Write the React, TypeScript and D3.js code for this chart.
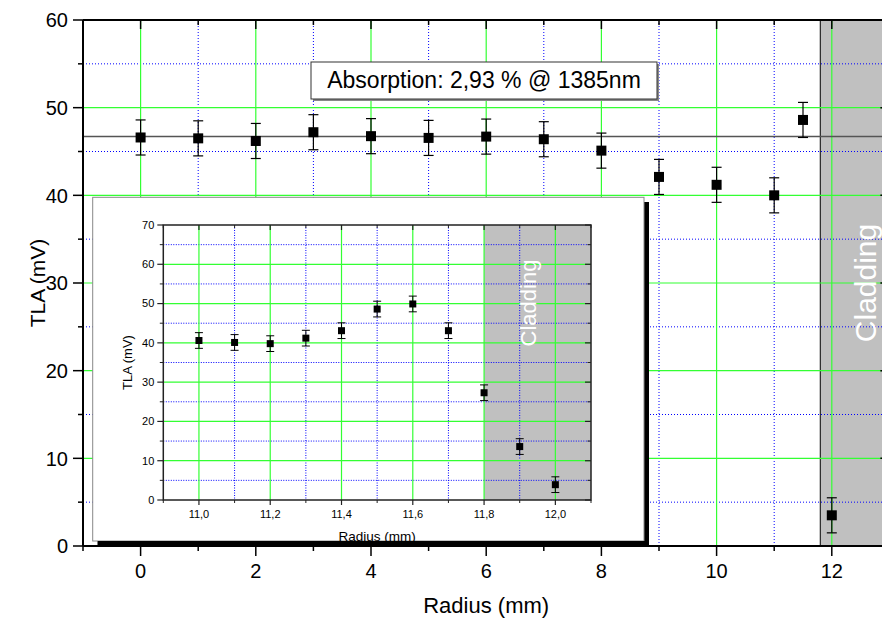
import React from "react";
import * as d3 from "d3";

const mainRadius = [0, 1, 2, 3, 4, 5, 6, 7, 8, 9, 10, 11, 11.5, 12];
const mainTLA = [46.6, 46.5, 46.2, 47.2, 46.75, 46.55, 46.7, 46.4, 45.1, 42.1, 41.2, 40.0, 48.6, 3.5];
const mainErr = [2, 2, 2, 2, 2, 2, 2, 2, 2, 2, 2, 2, 2, 2];
const meanLine = 46.7;

const insetRadius = [11.0, 11.1, 11.2, 11.3, 11.4, 11.5, 11.6, 11.7, 11.8, 11.9, 12.0];
const insetTLA = [40.6, 40.1, 39.8, 41.2, 43.1, 48.6, 49.9, 43.1, 27.3, 13.6, 3.9];
const insetErr = [2, 2, 2, 2, 2, 2, 2, 2, 2, 2, 2];

const mainXMajor = [0, 2, 4, 6, 8, 10, 12];
const mainXMinor = [-1, 1, 3, 5, 7, 9, 11, 13];
const mainYMajor = [0, 10, 20, 30, 40, 50, 60];
const mainYMinor = [5, 15, 25, 35, 45, 55];

const insetXMajor = [11.0, 11.2, 11.4, 11.6, 11.8, 12.0];
const insetXMinor = [10.9, 11.1, 11.3, 11.5, 11.7, 11.9, 12.1];
const insetYMajor = [0, 10, 20, 30, 40, 50, 60, 70];
const insetYMinor = [5, 15, 25, 35, 45, 55, 65];

const claddingStart = 11.8;
const annotation = "Absorption: 2,93 % @ 1385nm";

const FONT = "'Liberation Sans', Arial, sans-serif";
const GREEN = "#33ff33";
const BLUE = "#0000ff";
const GRAY = "#c0c0c0";

const fmt = (v: number) => v.toFixed(1).replace(".", ",");

export default function App() {
  const x = d3.scaleLinear().domain([-1, 13]).range([83, 889.4]);
  const y = d3.scaleLinear().domain([0, 60]).range([546, 20]);
  const ix = d3.scaleLinear().domain([10.9, 12.1]).range([163.3, 591]);
  const iy = d3.scaleLinear().domain([0, 70]).range([500, 225]);

  const [x0, x1] = x.range();
  const [y0, y1] = y.range();
  const [ix0, ix1] = ix.range();
  const [iy0, iy1] = iy.range();

  return (
    <svg width={882} height={619} style={{ position: "absolute", left: 0, top: 0, background: "#fff" }} fontFamily={FONT}>
      <rect x={0} y={0} width={882} height={619} fill="#fff" />
      {/* cladding region */}
      <rect x={x(claddingStart)} y={y1} width={x1 - x(claddingStart)} height={y0 - y1} fill={GRAY} />
      <line x1={x(claddingStart)} x2={x(claddingStart)} y1={y1} y2={y0} stroke="#000" strokeWidth={1} />
      {/* main grid */}
      {mainYMinor.map((v) => (
        <line key={"gym" + v} x1={x0} x2={882} y1={y(v)} y2={y(v)} stroke={BLUE} strokeWidth={1} strokeDasharray="1,2" />
      ))}
      {mainXMinor.filter((v) => v > -1).map((v) => (
        <line key={"gxm" + v} x1={x(v)} x2={x(v)} y1={y1} y2={y0} stroke={BLUE} strokeWidth={1} strokeDasharray="1,2" />
      ))}
      {mainYMajor.filter((v) => v > 0 && v < 60).map((v) => (
        <line key={"gy" + v} x1={x0} x2={882} y1={y(v)} y2={y(v)} stroke={GREEN} strokeWidth={1.2} />
      ))}
      {mainXMajor.map((v) => (
        <line key={"gx" + v} x1={x(v)} x2={x(v)} y1={y1} y2={y0} stroke={GREEN} strokeWidth={1.2} />
      ))}
      {/* mean line */}
      <line x1={x0} x2={882} y1={y(meanLine)} y2={y(meanLine)} stroke="#555" strokeWidth={1.5} />
      {/* main data */}
      {mainRadius.map((r, i) => {
        const cx = x(r);
        const cy = y(mainTLA[i]);
        const top = y(mainTLA[i] + mainErr[i]);
        const bot = y(mainTLA[i] - mainErr[i]);
        return (
          <g key={"m" + i}>
            <line x1={cx} x2={cx} y1={top} y2={bot} stroke="#000" strokeWidth={1.2} />
            <line x1={cx - 5} x2={cx + 5} y1={top} y2={top} stroke="#000" strokeWidth={1.2} />
            <line x1={cx - 5} x2={cx + 5} y1={bot} y2={bot} stroke="#000" strokeWidth={1.2} />
            <rect x={cx - 5} y={cy - 5} width={10} height={10} fill="#000" />
          </g>
        );
      })}
      {/* annotation box */}
      <rect x={313} y={64} width={346} height={37} fill="#888" />
      <rect x={311} y={62} width={346} height={37} fill="#fff" stroke="#333" strokeWidth={1} />
      <text x={484} y={88} fontSize={23} textAnchor="middle" fill="#000">{annotation}</text>

      {/* inset */}
      <rect x={97.7} y={202} width={551.3} height={344} fill="#000" />
      <rect x={92.7} y={197.3} width={551.3} height={343.7} fill="#fff" stroke="#888" strokeWidth={1} />
      <rect x={ix(claddingStart)} y={iy1} width={ix1 - ix(claddingStart)} height={iy0 - iy1} fill={GRAY} />
      {insetYMinor.map((v) => (
        <line key={"iym" + v} x1={ix0} x2={ix1} y1={iy(v)} y2={iy(v)} stroke={BLUE} strokeWidth={1} strokeDasharray="1,1.5" />
      ))}
      {insetXMinor.filter((v) => v > 10.95 && v < 12.05).map((v) => (
        <line key={"ixm" + v} x1={ix(v)} x2={ix(v)} y1={iy1} y2={iy0} stroke={BLUE} strokeWidth={1} strokeDasharray="1,1.5" />
      ))}
      {insetYMajor.filter((v) => v > 0 && v < 70).map((v) => (
        <line key={"iy" + v} x1={ix0} x2={ix1} y1={iy(v)} y2={iy(v)} stroke={GREEN} strokeWidth={1.2} />
      ))}
      {insetXMajor.map((v) => (
        <line key={"ix" + v} x1={ix(v)} x2={ix(v)} y1={iy1} y2={iy0} stroke={GREEN} strokeWidth={1.2} />
      ))}
      {insetRadius.map((r, i) => {
        const cx = ix(r);
        const cy = iy(insetTLA[i]);
        const top = iy(insetTLA[i] + insetErr[i]);
        const bot = iy(insetTLA[i] - insetErr[i]);
        return (
          <g key={"i" + i}>
            <line x1={cx} x2={cx} y1={top} y2={bot} stroke="#000" strokeWidth={1} />
            <line x1={cx - 4} x2={cx + 4} y1={top} y2={top} stroke="#000" strokeWidth={1} />
            <line x1={cx - 4} x2={cx + 4} y1={bot} y2={bot} stroke="#000" strokeWidth={1} />
            <rect x={cx - 3.5} y={cy - 3.5} width={7} height={7} fill="#000" />
          </g>
        );
      })}
      {/* inset axes */}
      <rect x={ix0} y={iy1} width={ix1 - ix0} height={iy0 - iy1} fill="none" stroke="#222" strokeWidth={1.5} />
      {insetYMajor.map((v) => (
        <g key={"iyt" + v}>
          <line x1={ix0 - 6} x2={ix0} y1={iy(v)} y2={iy(v)} stroke="#222" strokeWidth={1.2} />
          <line x1={ix1 - 6} x2={ix1} y1={iy(v)} y2={iy(v)} stroke="#222" strokeWidth={1.2} />
          <text x={ix0 - 9} y={iy(v)} dy="0.35em" fontSize={11} textAnchor="end" fill="#000">{v}</text>
        </g>
      ))}
      {insetYMinor.map((v) => (
        <g key={"iytm" + v}>
          <line x1={ix0 - 3.5} x2={ix0} y1={iy(v)} y2={iy(v)} stroke="#222" strokeWidth={1} />
          <line x1={ix1 - 3.5} x2={ix1} y1={iy(v)} y2={iy(v)} stroke="#222" strokeWidth={1} />
        </g>
      ))}
      {insetXMajor.map((v) => (
        <g key={"ixt" + v}>
          <line x1={ix(v)} x2={ix(v)} y1={iy0} y2={iy0 + 5} stroke="#222" strokeWidth={1.2} />
          <line x1={ix(v)} x2={ix(v)} y1={iy1} y2={iy1 + 5} stroke="#222" strokeWidth={1.2} />
          <text x={ix(v)} y={iy0 + 18} fontSize={11} textAnchor="middle" fill="#000">{fmt(v)}</text>
        </g>
      ))}
      {insetXMinor.map((v) => (
        <g key={"ixtm" + v}>
          <line x1={ix(v)} x2={ix(v)} y1={iy0} y2={iy0 + 3} stroke="#222" strokeWidth={1} />
          <line x1={ix(v)} x2={ix(v)} y1={iy1} y2={iy1 + 3} stroke="#222" strokeWidth={1} />
        </g>
      ))}
      <text transform={`translate(132,${(iy0 + iy1) / 2}) rotate(-90)`} fontSize={13} textAnchor="middle" fill="#000">TLA (mV)</text>
      <text x={(ix0 + ix1) / 2} y={541} fontSize={13.5} textAnchor="middle" fill="#000">Radius (mm)</text>
      <text transform="translate(536,303) rotate(-90)" fontSize={22} textAnchor="middle" fill="#fff">Cladding</text>
      {/* inset bottom shadow overdraw to clip label */}
      <rect x={97.7} y={541} width={551.3} height={5} fill="#000" />

      {/* main axes */}
      <line x1={x0} x2={882} y1={y1} y2={y1} stroke="#000" strokeWidth={2} />
      <line x1={x0} x2={882} y1={y0} y2={y0} stroke="#000" strokeWidth={2} />
      <line x1={x0} x2={x0} y1={y1} y2={y0} stroke="#000" strokeWidth={2} />
      <line x1={x1} x2={x1} y1={y1} y2={y0} stroke="#000" strokeWidth={2} />
      {mainYMajor.map((v) => (
        <g key={"yt" + v}>
          <line x1={x0 - 10} x2={x0} y1={y(v)} y2={y(v)} stroke="#000" strokeWidth={1.5} />
          <line x1={x1 - 9} x2={x1} y1={y(v)} y2={y(v)} stroke="#000" strokeWidth={1.5} />
          <text x={x0 - 15} y={y(v)} dy="0.36em" fontSize={20} textAnchor="end" fill="#000">{v}</text>
        </g>
      ))}
      {mainYMinor.map((v) => (
        <g key={"ytm" + v}>
          <line x1={x0 - 5} x2={x0} y1={y(v)} y2={y(v)} stroke="#000" strokeWidth={1.5} />
          <line x1={x1 - 5} x2={x1} y1={y(v)} y2={y(v)} stroke="#000" strokeWidth={1.5} />
        </g>
      ))}
      {mainXMajor.map((v) => (
        <g key={"xt" + v}>
          <line x1={x(v)} x2={x(v)} y1={y0} y2={y0 + 10} stroke="#000" strokeWidth={1.5} />
          <line x1={x(v)} x2={x(v)} y1={y1} y2={y1 + 9} stroke="#000" strokeWidth={1.5} />
          <text x={x(v)} y={y0 + 32} fontSize={20} textAnchor="middle" fill="#000">{v}</text>
        </g>
      ))}
      {mainXMinor.map((v) => (
        <g key={"xtm" + v}>
          <line x1={x(v)} x2={x(v)} y1={y0} y2={y0 + 5} stroke="#000" strokeWidth={1.5} />
          <line x1={x(v)} x2={x(v)} y1={y1} y2={y1 + 5} stroke="#000" strokeWidth={1.5} />
        </g>
      ))}
      <text transform={`translate(45,${(y0 + y1) / 2}) rotate(-90)`} fontSize={21} textAnchor="middle" fill="#000">TLA (mV)</text>
      <text x={(x0 + x1) / 2} y={613} fontSize={22} textAnchor="middle" fill="#000">Radius (mm)</text>
      <text transform={`translate(876,${(y0 + y1) / 2}) rotate(-90)`} fontSize={30} textAnchor="middle" fill="#fff">Cladding</text>
    </svg>
  );
}
